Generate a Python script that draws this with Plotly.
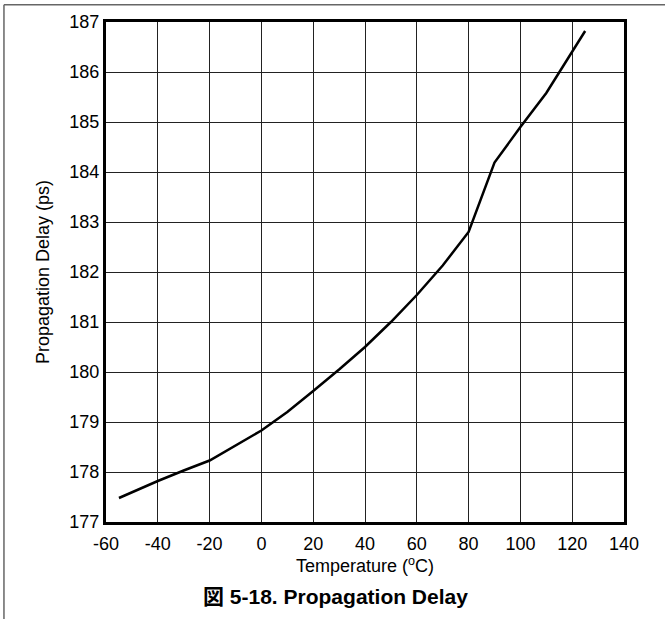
import plotly.graph_objects as go

temperature = [-55, -40, -30, -20, 0, 10, 20, 30, 40, 50, 60, 70, 80, 90, 100, 110, 125]
delay_ps = [177.48, 177.82, 178.03, 178.23, 178.83, 179.2, 179.62, 180.05, 180.5, 181.0, 181.54, 182.13, 182.8, 184.19, 184.9, 185.58, 186.82]

x_ticks = list(range(-60, 141, 20))
x_tick_labels = [str(v) for v in x_ticks]
y_ticks = list(range(177, 188, 1))
y_tick_labels = [str(v) for v in y_ticks]

FONT = "Liberation Sans, Arial, Noto Sans CJK JP, sans-serif"

fig = go.Figure()
fig.add_trace(go.Scatter(x=temperature, y=delay_ps, mode="lines",
                         line=dict(color="black", width=2.5), showlegend=False,
                         hoverinfo="skip"))

fig.update_xaxes(range=[-60, 140], tickvals=x_ticks, ticktext=x_tick_labels, showgrid=True,
                 gridcolor="#222", gridwidth=1, zeroline=False,
                 showline=True, linecolor="black", linewidth=3, mirror=True,
                 ticks="outside", ticklen=3, tickcolor="rgba(0,0,0,0)",
                 tickfont=dict(size=18, color="black", family=FONT),
                 title=dict(text="Temperature (<sup>o</sup>C)", standoff=0,
                            font=dict(size=18, color="black", family=FONT)))
fig.update_yaxes(range=[177, 187], tickvals=y_ticks, ticktext=y_tick_labels, showgrid=True,
                 gridcolor="#222", gridwidth=1, zeroline=False,
                 showline=True, linecolor="black", linewidth=3, mirror=True,
                 ticks="", tickfont=dict(size=18, color="black", family=FONT),
                 title=dict(text="Propagation Delay (ps)", standoff=16,
                            font=dict(size=18, color="black", family=FONT)))

fig.add_annotation(text="<b>図 5-18. Propagation Delay</b>", xref="paper", yref="paper",
                   x=0.443, y=-0.149, xanchor="center", yanchor="middle", showarrow=False,
                   font=dict(size=21, color="black", family=FONT))

# outer frame (top and left edges)
fig.add_shape(type="line", xref="paper", yref="paper", x0=-0.197, x1=1.1, y0=1.0345, y1=1.0345,
              line=dict(color="#666", width=1.5))
fig.add_shape(type="line", xref="paper", yref="paper", x0=-0.197, x1=-0.197, y0=-0.2, y1=1.0345,
              line=dict(color="#666", width=1.5))

fig.update_layout(width=665, height=619, margin=dict(l=106, r=41, t=19, b=97),
                  plot_bgcolor="white", paper_bgcolor="white",
                  font=dict(family=FONT, color="black"))

fig.write_html("out.html")
